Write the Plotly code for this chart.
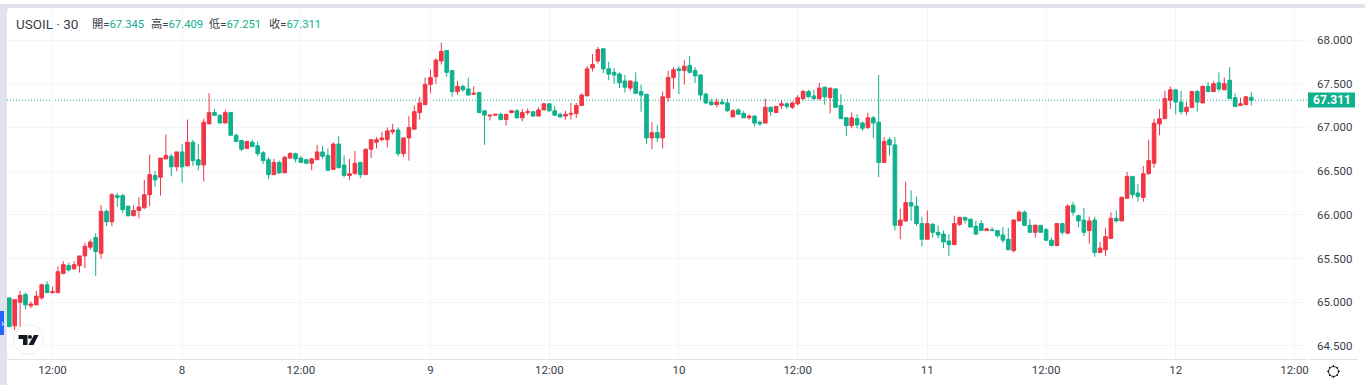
import plotly.graph_objects as go

symbol_title = "USOIL · 30"
ohlc_labels = ["開", "高", "低", "收"]
ohlc_values = ["67.345", "67.409", "67.251", "67.311"]
last_price = 67.311

x_tick_positions = [8, 32, 54, 78, 100, 124, 146, 170, 192, 216, 238]
x_tick_labels = ["12:00", "8", "12:00", "9", "12:00", "10", "12:00", "11", "12:00", "12", "12:00"]
y_tick_values = [64.5, 65.0, 65.5, 66.0, 66.5, 67.0, 67.5, 68.0]
y_tick_labels = ["64.500", "65.000", "65.500", "66.000", "66.500", "67.000", "67.500", "68.000"]

opens = [65.05,64.73,65.00,65.09,64.96,64.97,65.05,65.20,65.11,65.11,65.33,65.42,65.38,65.42,65.53,65.63,65.74,65.56,66.04,65.92,
66.22,66.22,66.10,65.99,66.05,66.08,66.23,66.45,66.43,66.64,66.67,66.55,66.72,66.56,66.83,66.63,66.57,67.04,67.17,67.14,
67.05,67.17,66.91,66.85,66.76,66.83,66.79,66.71,66.63,66.46,66.60,66.48,66.65,66.70,66.65,66.63,66.59,66.63,66.72,66.68,
66.52,66.81,66.57,66.45,66.47,66.60,66.46,66.75,66.83,66.86,66.86,66.95,66.97,66.70,66.88,66.98,67.17,67.26,67.49,67.58,
67.76,67.88,67.65,67.41,67.47,67.44,67.38,67.40,67.19,67.13,67.14,67.15,67.09,67.17,67.19,67.11,67.17,67.18,67.13,67.20,
67.27,67.19,67.15,67.13,67.15,67.16,67.25,67.36,67.68,67.76,67.90,67.67,67.63,67.61,67.53,67.45,67.52,67.41,67.38,66.88,
66.94,66.88,67.34,67.57,67.67,67.65,67.71,67.65,67.60,67.38,67.29,67.26,67.29,67.28,67.12,67.20,67.16,67.11,67.13,67.06,
67.05,67.23,67.17,67.25,67.27,67.23,67.27,67.33,67.41,67.36,67.33,67.46,67.34,67.44,67.25,67.11,67.02,67.10,67.05,67.00,
67.11,67.06,66.60,66.86,66.80,65.88,65.93,66.14,66.10,65.90,65.72,65.89,65.80,65.78,65.70,65.66,65.89,65.97,65.95,65.87,
65.90,65.82,65.83,65.82,65.77,65.72,65.59,65.93,66.03,65.88,65.80,65.88,65.83,65.71,65.65,65.90,65.79,66.11,65.99,65.94,
65.82,65.94,65.57,65.60,65.73,65.96,65.93,66.19,66.44,66.25,66.20,66.47,66.59,67.04,67.10,67.31,67.43,67.29,67.18,67.23,
67.41,67.28,67.47,67.41,67.51,67.43,67.54,67.34,67.25,67.26,67.345]
highs = [65.05,65.03,65.13,65.11,65.01,65.13,65.21,65.24,65.18,65.41,65.47,65.45,65.47,65.53,65.68,65.72,65.79,66.11,66.06,66.25,
66.25,66.24,66.10,66.11,66.20,66.40,66.69,66.50,66.65,66.92,66.70,66.72,66.81,67.09,66.86,66.81,67.10,67.39,67.21,67.15,
67.20,67.17,66.93,66.85,66.84,66.86,66.84,66.73,66.66,66.64,66.62,66.67,66.72,66.71,66.67,66.64,66.65,66.80,66.79,66.76,
66.83,66.90,66.68,66.64,66.73,66.60,66.76,66.86,66.89,66.95,67.00,67.04,67.00,66.88,67.13,67.25,67.35,67.57,67.66,67.79,
67.97,67.88,67.65,67.53,67.49,67.57,67.47,67.40,67.19,67.14,67.15,67.17,67.15,67.20,67.21,67.21,67.22,67.18,67.23,67.28,
67.27,67.25,67.17,67.19,67.28,67.28,67.39,67.70,67.84,67.92,67.90,67.75,67.68,67.63,67.60,67.54,67.63,67.49,67.38,67.06,
67.03,67.41,67.65,67.69,67.70,67.77,67.82,67.69,67.60,67.40,67.33,67.33,67.33,67.33,67.21,67.22,67.19,67.15,67.14,67.08,
67.33,67.24,67.24,67.31,67.29,67.30,67.37,67.43,67.43,67.43,67.51,67.47,67.45,67.45,67.38,67.12,67.17,67.15,67.07,67.17,
67.13,67.60,66.89,66.89,66.89,66.07,66.38,66.28,66.21,65.98,66.05,65.91,65.88,65.82,65.78,65.99,65.98,65.98,65.96,65.93,
65.94,65.85,65.86,65.82,65.86,65.85,65.95,66.05,66.05,65.95,65.89,65.88,65.85,65.74,65.90,65.90,66.12,66.15,66.00,66.08,
65.98,65.98,65.69,65.85,66.03,66.05,66.21,66.49,66.44,66.35,66.56,66.86,67.10,67.21,67.42,67.47,67.44,67.42,67.29,67.42,
67.43,67.48,67.52,67.53,67.63,67.57,67.69,67.39,67.34,67.36,67.409]
lows = [64.72,64.68,64.71,64.92,64.93,64.97,65.03,65.11,65.10,65.11,65.32,65.35,65.38,65.34,65.39,65.60,65.30,65.50,65.87,65.87,
66.09,66.02,65.98,65.99,65.96,66.07,66.10,66.32,66.22,66.64,66.44,66.50,66.37,66.56,66.56,66.51,66.38,67.04,67.13,67.05,
67.05,66.91,66.83,66.73,66.76,66.78,66.67,66.58,66.41,66.46,66.47,66.48,66.64,66.60,66.60,66.59,66.51,66.63,66.64,66.51,
66.52,66.53,66.43,66.40,66.47,66.42,66.46,66.65,66.76,66.84,66.77,66.92,66.67,66.66,66.62,66.98,67.09,67.26,67.39,67.50,
67.72,67.58,67.35,67.37,67.41,67.37,67.37,67.17,66.80,67.08,67.14,67.08,67.02,67.16,67.10,67.07,67.14,67.12,67.13,67.20,
67.18,67.13,67.11,67.09,67.09,67.11,67.25,67.36,67.64,67.73,67.62,67.54,67.50,67.45,67.40,67.42,67.38,67.18,66.81,66.75,
66.83,66.76,67.29,67.44,67.38,67.49,67.62,67.51,67.31,67.27,67.25,67.23,67.26,67.18,67.12,67.15,67.11,67.09,67.01,67.02,
67.05,67.13,67.17,67.21,67.21,67.21,67.25,67.31,67.34,67.31,67.31,67.26,67.16,67.23,67.10,66.90,66.99,66.99,66.96,66.98,
66.88,66.43,66.60,66.68,65.82,65.72,65.92,65.93,65.87,65.64,65.72,65.74,65.73,65.62,65.53,65.66,65.87,65.90,65.86,65.77,
65.82,65.82,65.82,65.74,65.68,65.60,65.57,65.93,65.87,65.80,65.74,65.80,65.70,65.64,65.64,65.77,65.78,65.99,65.86,65.76,
65.67,65.52,65.57,65.53,65.73,65.91,65.93,66.19,66.19,66.15,66.15,66.46,66.54,66.91,67.10,67.21,67.15,67.15,67.14,67.22,
67.18,67.28,67.40,67.41,67.41,67.43,67.33,67.24,67.25,67.26,67.251]
closes = [64.72,65.03,65.08,64.97,64.98,65.07,65.20,65.11,65.12,65.35,65.43,65.37,65.43,65.53,65.64,65.69,65.58,66.04,65.92,66.23,
66.20,66.06,65.99,66.05,66.09,66.23,66.46,66.40,66.65,66.68,66.55,66.72,66.55,66.83,66.62,66.57,67.06,67.17,67.14,67.05,
67.17,66.91,66.84,66.75,66.84,66.78,66.70,66.62,66.46,66.60,66.48,66.66,66.70,66.64,66.60,66.59,66.64,66.72,66.67,66.51,
66.81,66.54,66.45,66.47,66.59,66.46,66.75,66.86,66.86,66.88,66.96,66.97,66.70,66.88,67.00,67.18,67.28,67.49,67.57,67.77,
67.87,67.63,67.41,67.47,67.43,67.37,67.39,67.17,67.14,67.14,67.15,67.09,67.15,67.19,67.11,67.17,67.18,67.13,67.20,67.27,
67.19,67.14,67.12,67.15,67.16,67.25,67.37,67.67,67.72,67.89,67.67,67.61,67.60,67.51,67.46,67.53,67.39,67.37,66.88,66.94,
66.88,67.35,67.57,67.66,67.65,67.70,67.63,67.59,67.37,67.28,67.26,67.29,67.27,67.19,67.19,67.15,67.11,67.13,67.05,67.04,
67.23,67.18,67.24,67.27,67.24,67.28,67.34,67.41,67.35,67.33,67.45,67.35,67.45,67.23,67.10,67.02,67.11,67.03,66.99,67.11,
67.05,66.60,66.84,66.80,65.88,65.94,66.14,66.10,65.90,65.72,65.90,65.80,65.77,65.69,65.66,65.90,65.97,65.94,65.86,65.78,
65.82,65.84,65.82,65.76,65.71,65.60,65.94,66.03,65.88,65.80,65.88,65.80,65.71,65.65,65.90,65.80,66.10,66.03,65.93,65.80,
65.93,65.57,65.62,65.75,65.96,65.93,66.20,66.44,66.23,66.21,66.47,66.62,67.05,67.10,67.33,67.43,67.29,67.18,67.23,67.41,
67.29,67.47,67.41,67.50,67.44,67.50,67.33,67.24,67.27,67.35,67.311]

GREEN = "#0fb18e"
RED = "#f23645"
GRID = "#f2f4f9"
EDGE = "#e0e3eb"
INK = "#3a3e4a"

W, H = 1365, 385
PLOT_L, PLOT_R, PLOT_T, PLOT_B = 7, 1308, 8, 359
bar_index = list(range(len(opens)))
X = lambda p: p / W
Y = lambda p: 1 - p / H


def paper_rect(x0, y0, x1, y1, color):
    return dict(type="rect", xref="paper", yref="paper", x0=X(x0), x1=X(x1), y0=Y(y0), y1=Y(y1),
                fillcolor=color, line_width=0, layer="above")


fig = go.Figure(go.Candlestick(
    x=bar_index, open=opens, high=highs, low=lows, close=closes,
    increasing=dict(line=dict(color=RED, width=1), fillcolor=RED),
    decreasing=dict(line=dict(color=GREEN, width=1), fillcolor=GREEN),
    whiskerwidth=0, hoverinfo="skip", showlegend=False,
))

shapes = [
    dict(type="line", xref="paper", yref="y", x0=X(PLOT_L), x1=X(PLOT_R), y0=last_price, y1=last_price,
         line=dict(color=GREEN, width=1, dash="1px,2px"), layer="below"),
    paper_rect(0, 4, W, 8, EDGE),
    paper_rect(0, 4, 7, H, EDGE),
    dict(type="path", xref="paper", yref="paper",
         path=f"M {X(7)} {Y(8)} L {X(11)} {Y(8)} Q {X(7)} {Y(8)} {X(7)} {Y(12)} Z",
         fillcolor=EDGE, line_width=0, layer="above"),
    paper_rect(0, 311, 4, 335, "#2962ff"),
    paper_rect(1310, 359, 1358, 360, EDGE),
    paper_rect(1308, 92.5, 1355, 107.5, GREEN),
    # logo badge
    dict(type="circle", xref="paper", yref="paper", x0=X(13.5), x1=X(43), y0=Y(354.5), y1=Y(324.5),
         fillcolor="#ffffff", line=dict(color="#eceef2", width=1), layer="above"),
    dict(type="path", xref="paper", yref="paper",
         path=" ".join([
             f"M {X(18.5)} {Y(335)}", f"L {X(27.5)} {Y(335)}", f"L {X(27.5)} {Y(345)}", f"L {X(23)} {Y(345)}",
             f"L {X(23)} {Y(339)}", f"L {X(18.5)} {Y(339)}", "Z",
             f"M {X(34)} {Y(335)}", f"L {X(38.5)} {Y(335)}", f"L {X(33.5)} {Y(345)}", f"L {X(28.5)} {Y(345)}", "Z",
         ]), fillcolor="#131722", line_width=0, layer="above"),
    dict(type="circle", xref="paper", yref="paper", x0=X(28), x1=X(32), y0=Y(339), y1=Y(335),
         fillcolor="#131722", line_width=0, layer="above"),
    # settings icon
    dict(type="circle", xref="paper", yref="paper", x0=X(1328.5), x1=X(1338.5), y0=Y(376.5), y1=Y(366.5),
         fillcolor="#ffffff", line=dict(color="#131722", width=1), layer="above"),
]
# gear teeth
for (a, b, c, d) in [(1333.5, 365, 1333.5, 367.2), (1333.5, 375.8, 1333.5, 378), (1327, 371.5, 1329.2, 371.5),
                     (1337.8, 371.5, 1340, 371.5), (1329, 367, 1330.3, 368.2), (1336.7, 374.8, 1338, 376),
                     (1329, 376, 1330.3, 374.8), (1336.7, 368.2, 1338, 367)]:
    shapes.append(dict(type="line", xref="paper", yref="paper", x0=X(a), y0=Y(b), x1=X(c), y1=Y(d),
                       line=dict(color="#131722", width=1), layer="above"))

annotations = [
    dict(xref="paper", yref="paper", x=X(1331.5), y=Y(100), text=f"<b>{last_price:.3f}</b>", showarrow=False,
         xanchor="center", yanchor="middle", font=dict(family="Roboto", size=12, color="#ffffff")),
    dict(xref="paper", yref="paper", x=X(14), y=Y(24), text=symbol_title, showarrow=False, xanchor="left",
         yanchor="middle", font=dict(family="Roboto", size=13.5, color=INK)),
    dict(xref="paper", yref="paper", x=X(2), y=Y(323), text="›", showarrow=False, xanchor="center",
         yanchor="middle", font=dict(family="Roboto", size=10, color="#ffffff")),
]
for start, label, value in zip([89.5, 148.5, 207.5, 267], ohlc_labels, ohlc_values):
    annotations.append(dict(
        xref="paper", yref="paper", x=X(start), y=Y(24), showarrow=False, xanchor="left", yanchor="middle",
        text=f"<span style='color:{INK}'>{label}=</span><span style='color:{GREEN}'>{value}</span>",
        font=dict(family="Roboto, 'Noto Sans CJK TC'", size=11.3),
    ))

fig.update_layout(
    width=W, height=H, autosize=False,
    margin=dict(l=0, r=0, t=0, b=0),
    paper_bgcolor="#ffffff", plot_bgcolor="#ffffff",
    hovermode=False, dragmode=False, boxgap=0.2, boxgroupgap=0.16,
    shapes=shapes, annotations=annotations,
    xaxis=dict(
        domain=[X(PLOT_L), X(PLOT_R)], range=[-0.426, 240.5], rangeslider=dict(visible=False),
        tickmode="array", tickvals=x_tick_positions, ticktext=x_tick_labels,
        showgrid=True, gridcolor=GRID, gridwidth=1, zeroline=False, ticks="",
        showline=True, linecolor=EDGE, linewidth=1,
        tickfont=dict(family="Roboto", size=11.5, color=INK),
    ),
    yaxis=dict(
        domain=[Y(PLOT_B), Y(PLOT_T)], range=[64.351, 68.366], side="right",
        tickmode="array", tickvals=y_tick_values, ticktext=y_tick_labels,
        showgrid=True, gridcolor=GRID, gridwidth=1, zeroline=False, ticks="",
        showline=False, ticklabelstandoff=8,
        tickfont=dict(family="Roboto", size=11.5, color=INK),
    ),
)

fig.write_html("out.html", config={"displayModeBar": False, "staticPlot": True},
               post_script="document.body.style.margin='0';document.body.style.overflow='hidden';")
